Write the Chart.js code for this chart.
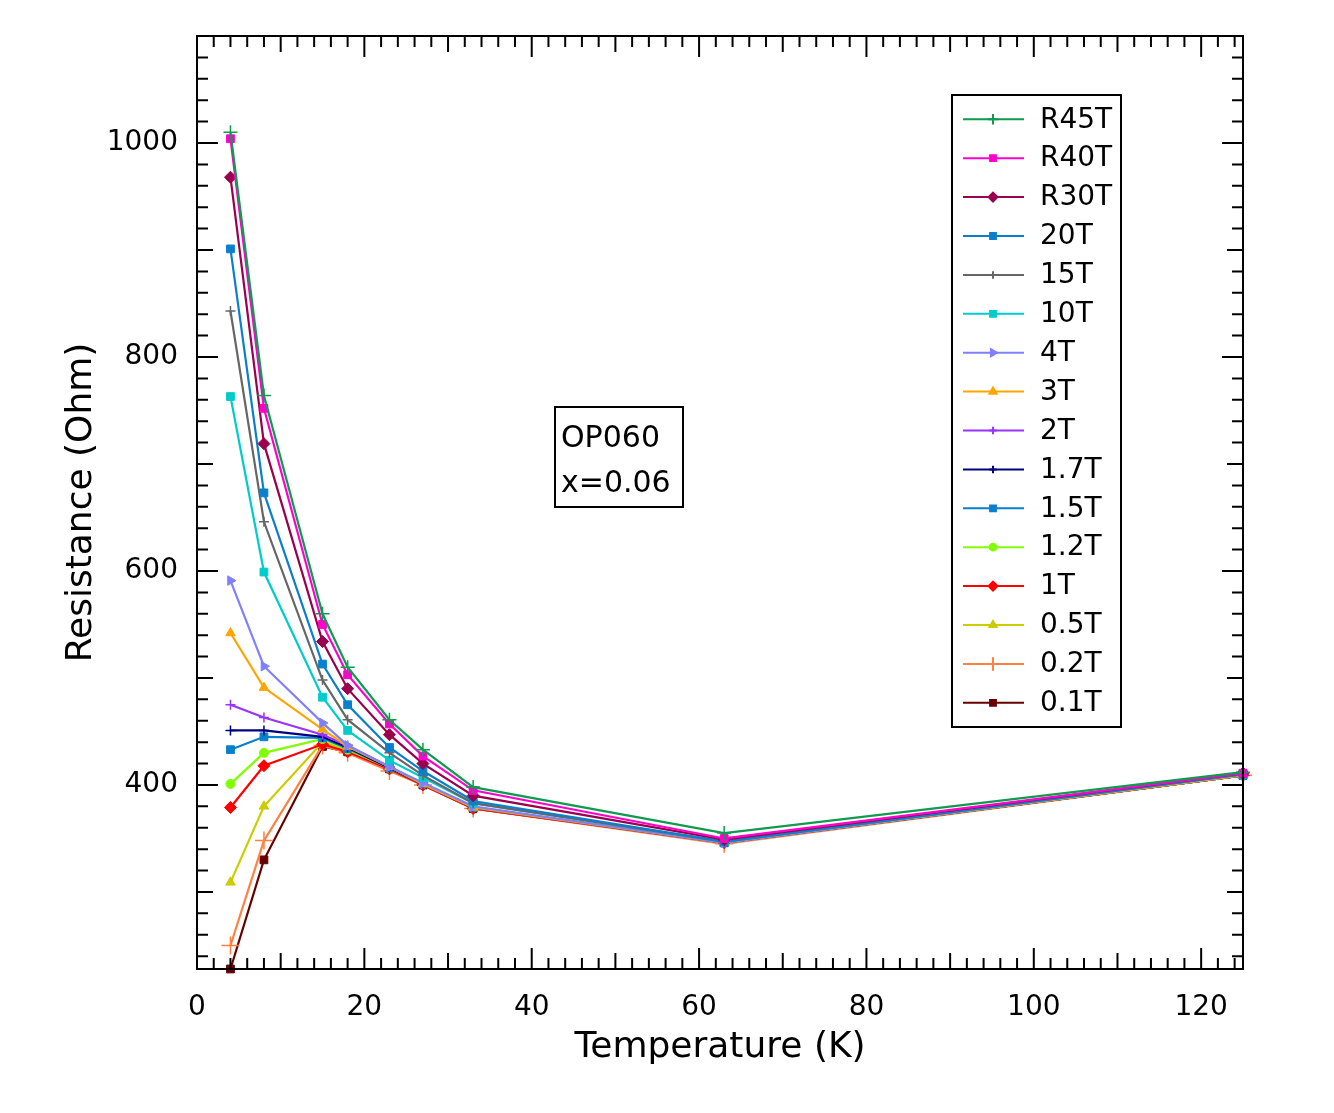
<!DOCTYPE html>
<html>
<head>
<meta charset="utf-8">
<script src="https://cdn.jsdelivr.net/npm/chart.js@4/dist/chart.umd.min.js"></script>
<style>
    html, body { margin: 0; padding: 0; background: #fff; }
    #wrap { width: 1334px; height: 1113px; }
</style>
</head>
<body>
<div id="wrap"><canvas id="chart"></canvas></div>
<script>
// temperatures (K) where every field was measured
let temps = [4, 8, 15, 18, 23, 27, 33, 63, 125];

// resistance (Ohm), one array per field
let r45T = [1010, 764, 560, 510, 461, 433, 398, 355, 412];
let r40T = [1004, 752, 550, 503, 457, 427, 395, 350, 411];
let r30T = [968, 719, 534, 490, 447, 420, 390, 349, 411];
let r20T = [901, 673, 513, 475, 435, 413, 385, 347, 410];
let r15T = [843, 646, 498, 461, 430, 409, 383, 347, 410];
let r10T = [763, 599, 482, 451, 423, 407, 383, 347, 410];
let r4T = [591, 511, 458, 437, 417, 402, 380, 346, 410];
let r3T = [542, 491, 452, 436, 417, 401, 379, 346, 409];
let r2T = [475, 463, 447, 437, 417, 401, 379, 346, 409];
let r1_7T = [451, 451, 445, 435, 416, 401, 379, 346, 409];
let r1_5T = [433, 445, 444, 434, 416, 401, 379, 346, 409];
let r1_2T = [401, 430, 443, 433, 416, 401, 379, 346, 409];
let r1T = [379, 418, 438, 431, 415, 400, 378, 346, 409];
let r0_5T = [309, 380, 440, 433, 416, 401, 379, 346, 409];
let r0_2T = [250, 348, 437, 430, 413, 400, 378, 345, 409];
let r0_1T = [228, 330, 436, 431, 415, 400, 378, 346, 409];

let seriesLabels = ["R45T", "R40T", "R30T", "20T", "15T", "10T", "4T", "3T", "2T", "1.7T", "1.5T", "1.2T", "1T", "0.5T", "0.2T", "0.1T"];
let seriesValues = [r45T, r40T, r30T, r20T, r15T, r10T, r4T, r3T, r2T, r1_7T, r1_5T, r1_2T, r1T, r0_5T, r0_2T, r0_1T];

let xTickValues = [0, 20, 40, 60, 80, 100, 120];
let yTickValues = [400, 600, 800, 1000];

// look of each series
let colors = ["#0f9a4e", "#ff00cc", "#99004d", "#0a80cc", "#666666", "#00cccc", "#8080ff", "#ffa500",
              "#9933ff", "#000080", "#0a80cc", "#80ff00", "#ff0000", "#cccc00", "#ff8040", "#660000"];
let styles = ["cross", "rect", "rectRot", "rect", "cross", "rect", "triangle", "triangle",
              "cross", "cross", "rect", "circle", "rectRot", "triangle", "cross", "rect"];
let radii = [7, 5.5, 6, 5.5, 5, 5.5, 5.5, 5.5, 5, 5, 5.5, 4.5, 6, 5.5, 9, 5.5];
let rotations = [0, 0, 0, 0, 0, 0, 90, 0, 0, 0, 0, 0, 0, 0, 0, 0];

const FONT = "'DejaVu Sans', sans-serif";

let datasets = seriesLabels.map((label, i) => ({
    label: label,
    data: temps.map((t, j) => ({ x: t, y: seriesValues[i][j] })),
    borderColor: colors[i],
    backgroundColor: colors[i],
    borderWidth: 2.2,
    pointStyle: styles[i],
    pointRadius: radii[i],
    pointRotation: rotations[i],
    pointBorderWidth: styles[i] === "cross" ? 1.5 : 1,
    tension: 0,
    clip: false
}));

// inward ticks on all four sides plus the frame
let frameTicks = {
    id: "frameTicks",
    afterDraw(chart) {
        let ctx = chart.ctx;
        let a = chart.chartArea;
        let xs = chart.scales.x;
        let ys = chart.scales.y;
        ctx.save();
        ctx.strokeStyle = "#000";
        ctx.lineWidth = 2;
        ctx.strokeRect(a.left, a.top, a.right - a.left, a.bottom - a.top);
        ctx.beginPath();
        for (let v = 0; v < xs.max; v += 2) {
            let len = v % 20 === 0 ? 21 : (v % 10 === 0 ? 16 : 11);
            let px = xs.getPixelForValue(v);
            ctx.moveTo(px, a.bottom);
            ctx.lineTo(px, a.bottom - len);
            ctx.moveTo(px, a.top);
            ctx.lineTo(px, a.top + len);
        }
        for (let v = Math.ceil(ys.min / 20) * 20; v < ys.max; v += 20) {
            let len = v % 200 === 0 ? 21 : (v % 100 === 0 ? 16 : 11);
            let py = ys.getPixelForValue(v);
            ctx.moveTo(a.left, py);
            ctx.lineTo(a.left + len, py);
            ctx.moveTo(a.right, py);
            ctx.lineTo(a.right - len, py);
        }
        ctx.stroke();
        ctx.restore();
    }
};

// boxed legend with a line and a marker per row, and the sample label
let boxLegend = {
    id: "boxLegend",
    afterDraw(chart) {
        let ctx = chart.ctx;
        ctx.save();
        ctx.strokeStyle = "#000";
        ctx.lineWidth = 2;
        ctx.strokeRect(952, 95, 169, 632);
        ctx.font = "28px " + FONT;
        ctx.textBaseline = "middle";
        ctx.textAlign = "left";
        seriesLabels.forEach((label, i) => {
            let y = 119.3 + i * 38.9;
            ctx.strokeStyle = colors[i];
            ctx.lineWidth = 2;
            ctx.beginPath();
            ctx.moveTo(963, y);
            ctx.lineTo(1024, y);
            ctx.stroke();
            ctx.fillStyle = colors[i];
            Chart.helpers.drawPoint(ctx, {
                pointStyle: styles[i],
                radius: radii[i] * 0.75,
                rotation: rotations[i],
                borderWidth: 1
            }, 993, y);
            ctx.fillStyle = "#000";
            ctx.fillText(label, 1040, y + 1);
        });

        ctx.strokeStyle = "#000";
        ctx.lineWidth = 2;
        ctx.strokeRect(555, 407, 128, 100);
        ctx.font = "30px " + FONT;
        ctx.textBaseline = "alphabetic";
        ctx.fillStyle = "#000";
        ctx.fillText("OP060", 561, 447);
        ctx.fillText("x=0.06", 561, 492);
        ctx.restore();
    }
};

new Chart(document.getElementById("chart"), {
    type: "line",
    data: { datasets: datasets },
    options: {
        responsive: true,
        maintainAspectRatio: false,
        animation: false,
        layout: { padding: { left: 0, top: 36, right: 91, bottom: 0 } },
        plugins: {
            legend: { display: false },
            tooltip: { enabled: false }
        },
        scales: {
            x: {
                type: "linear",
                min: 0,
                max: 125,
                grid: { display: false },
                border: { display: false },
                afterFit: scale => { scale.height = 144; },
                afterBuildTicks: scale => { scale.ticks = xTickValues.map(v => ({ value: v })); },
                ticks: { color: "#000", font: { family: FONT, size: 28 }, padding: 14, maxRotation: 0,
                         callback: v => String(v) },
                title: { display: true, text: "Temperature (K)", color: "#000",
                         font: { family: FONT, size: 36 }, padding: { top: 0, bottom: 44 } }
            },
            y: {
                type: "linear",
                min: 228,
                max: 1100,
                grid: { display: false },
                border: { display: false },
                afterFit: scale => { scale.width = 197; },
                afterBuildTicks: scale => { scale.ticks = yTickValues.map(v => ({ value: v })); },
                ticks: { color: "#000", font: { family: FONT, size: 28 }, padding: 11,
                         callback: v => String(v) },
                title: { display: true, text: "Resistance (Ohm)", color: "#000",
                         font: { family: FONT, size: 36 }, padding: { top: 60, bottom: 0 } }
            }
        }
    },
    plugins: [frameTicks, boxLegend]
});
</script>
</body>
</html>
